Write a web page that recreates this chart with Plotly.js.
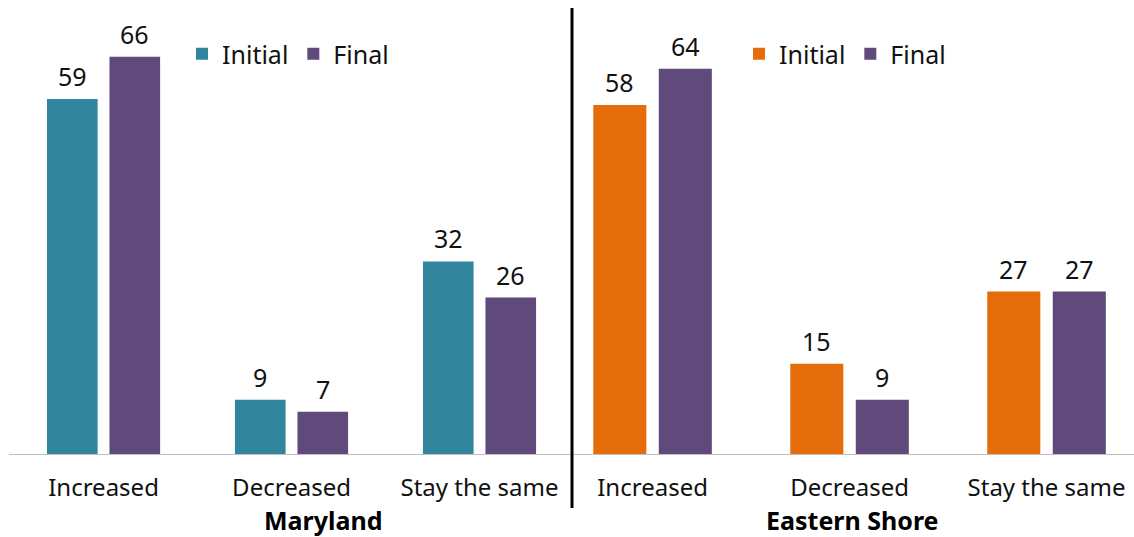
<!DOCTYPE html>
<html><head><meta charset="utf-8">
<script src="https://cdn.plot.ly/plotly-3.0.1.min.js"></script>
<style>html,body{margin:0;padding:0;background:#fff}#c{width:1134px;height:537px}</style>
</head><body><div id="c"></div>
<script>
const categories = ["Increased", "Decreased", "Stay the same"];
const marylandInitial = [59, 9, 32];
const marylandFinal = [66, 7, 26];
const easternInitial = [58, 15, 27];
const easternFinal = [64, 9, 27];
const seriesNames = ["Initial", "Final"];
const panelTitles = ["Maryland", "Eastern Shore"];

const TEAL = "#31859C", PURPLE = "#604A7B", ORANGE = "#E46C0A";
const FONT = "Noto Sans, Open Sans, sans-serif";
const W = 1134, H = 537;
const PT = 2, PB = 454, PH = PB - PT;

function bar(y, name, color, xa, ya, legend) {
  return {type: "bar", x: categories, y: y, name: name, xaxis: xa, yaxis: ya,
    marker: {color: color, line: {width: 0}}, legend: legend, hoverinfo: "skip"};
}
const data = [
  bar(marylandInitial, seriesNames[0], TEAL, "x", "y", "legend"),
  bar(marylandFinal, seriesNames[1], PURPLE, "x", "y", "legend"),
  bar(easternInitial, seriesNames[0], ORANGE, "x2", "y2", "legend2"),
  bar(easternFinal, seriesNames[1], PURPLE, "x2", "y2", "legend2")
];

const bargap = 0.335, bargroupgap = 0.19;
const annotations = [];
function labels(vals, xref, yref, offset) {
  vals.forEach((v, i) => {
    annotations.push({x: i + offset, y: v, xref: xref, yref: yref, text: String(v),
      showarrow: false, xanchor: "center", yanchor: "bottom", yshift: 4, font: {size: 25, color: "#111", family: FONT}});
  });
}
const off = (1 - bargap) / 4;
labels(marylandInitial, "x", "y", -off);
labels(marylandFinal, "x", "y", off);
labels(easternInitial, "x2", "y2", -off);
labels(easternFinal, "x2", "y2", off);

const titleFont = {size: 25, color: "#000", family: FONT};
annotations.push({text: "<b>" + panelTitles[0] + "</b>", xref: "paper", yref: "paper", borderpad: 0,
  x: 323 / W, y: (PB - 520) / PH, xanchor: "center", yanchor: "middle", showarrow: false, font: titleFont});
annotations.push({text: "<b>" + panelTitles[1] + "</b>", xref: "paper", yref: "paper", borderpad: 0,
  x: 852 / W, y: (PB - 520) / PH, xanchor: "center", yanchor: "middle", showarrow: false, font: titleFont});

const axBase = {type: "category", showgrid: false, zeroline: false, showline: true, linecolor: "#BFBFBF", linewidth: 1,
  ticks: "", tickfont: {size: 24, color: "#111", family: FONT}, ticklabelstandoff: 12, fixedrange: true, automargin: false};
const yBase = {range: [0, 75.1], visible: false, fixedrange: true};

const legBase = {orientation: "h", xref: "paper", yref: "paper", y: (PB - 31) / PH,
  xanchor: "left", yanchor: "top", font: {size: 25, color: "#111", family: FONT}, bgcolor: "rgba(0,0,0,0)"};

const layout = {
  width: W, height: H, margin: {l: 0, r: 0, t: PT, b: H - PB, autoexpand: false},
  paper_bgcolor: "#fff", plot_bgcolor: "#fff",
  barmode: "group", bargap: bargap, bargroupgap: bargroupgap,
  font: {family: FONT, color: "#111"},
  xaxis: Object.assign({}, axBase, {domain: [9 / W, 572 / W], range: [-0.503, 2.492], anchor: "y"}),
  yaxis: Object.assign({}, yBase, {anchor: "x"}),
  xaxis2: Object.assign({}, axBase, {domain: [572 / W, 1], range: [-0.409, 2.444], anchor: "y2"}),
  yaxis2: Object.assign({}, yBase, {anchor: "x2"}),
  legend: Object.assign({}, legBase, {x: 182 / W}),
  legend2: Object.assign({}, legBase, {x: 739 / W}),
  annotations: annotations,
  shapes: [{type: "line", xref: "paper", yref: "paper", x0: 572 / W, x1: 572 / W,
    y0: (PB - 8) / PH, y1: (PB - 508) / PH, line: {color: "#000", width: 3}}]
};
Plotly.newPlot("c", data, layout, {displayModeBar: false, staticPlot: true});
</script></body></html>
